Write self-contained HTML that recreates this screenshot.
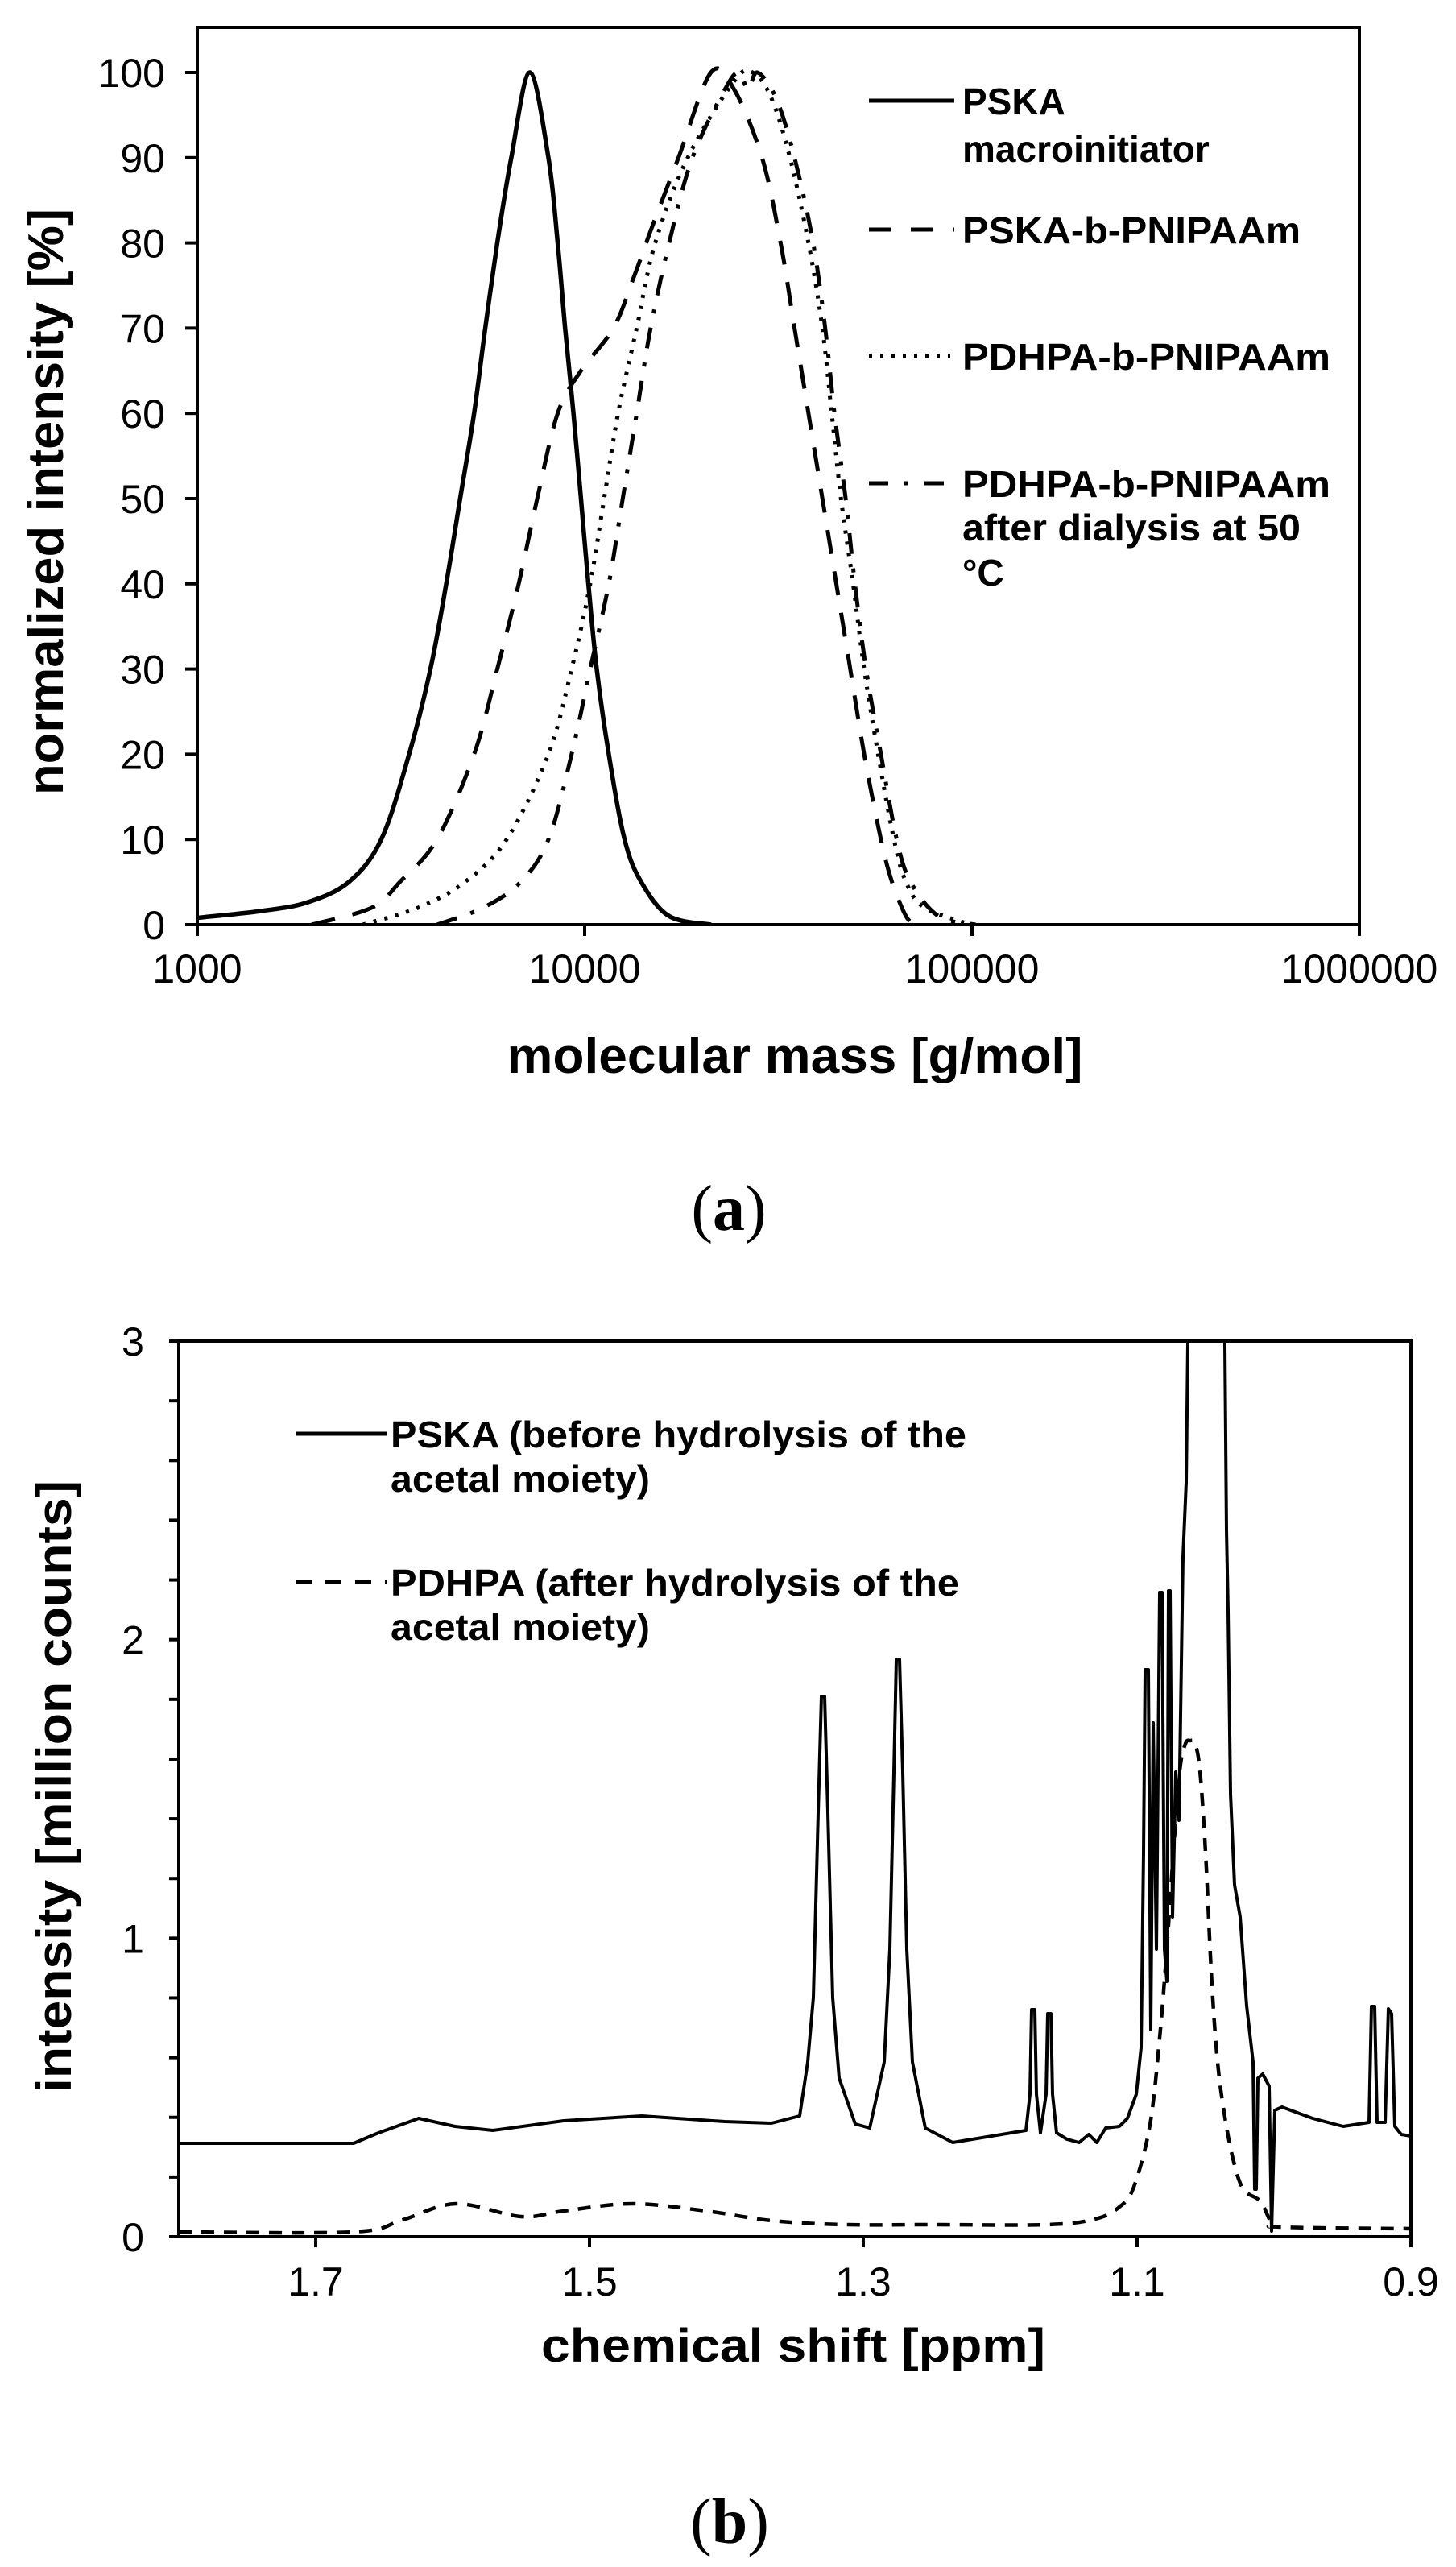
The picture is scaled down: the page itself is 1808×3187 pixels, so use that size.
<!DOCTYPE html>
<html><head><meta charset="utf-8"><style>
html,body{margin:0;padding:0;background:#fff;}
svg{display:block;}
text{font-family:"Liberation Sans",Arial,sans-serif;fill:#000;}
</style></head><body>
<svg id="s" width="1808" height="3187" viewBox="0 0 1808 3187" xmlns="http://www.w3.org/2000/svg">
<defs>
<clipPath id="ca"><rect x="245" y="34" width="1443" height="1114"/></clipPath>
<clipPath id="cb"><rect x="222" y="1665" width="1530" height="1112"/></clipPath>
</defs>
<!-- Chart A -->
<g id="ga" clip-path="url(#ca)" fill="none" stroke="#000" stroke-width="5" stroke-linejoin="round"></g>
<rect x="245" y="34" width="1443" height="1114" fill="none" stroke="#000" stroke-width="4"/>
<g id="ta" stroke="#000" stroke-width="4"></g>
<g font-size="50" text-anchor="end" id="yla"></g>
<g font-size="50" text-anchor="middle" id="xla"></g>
<text x="987" y="1332" font-size="62" font-weight="bold" text-anchor="middle" textLength="715" lengthAdjust="spacingAndGlyphs">molecular  mass  [g/mol]</text>
<text transform="translate(78,623) rotate(-90)" font-size="62" font-weight="bold" text-anchor="middle" textLength="728" lengthAdjust="spacingAndGlyphs">normalized  intensity  [%]</text>
<!-- legend A -->
<g stroke="#000" stroke-width="5" fill="none">
<line x1="1079" y1="125" x2="1185" y2="125"/>
<line x1="1079" y1="285" x2="1185" y2="285" stroke-dasharray="28 24"/>
<line x1="1079" y1="442" x2="1180" y2="442" stroke-dasharray="4 10"/>
<line x1="1079" y1="600" x2="1185" y2="600" stroke-dasharray="24 20 5 20"/>
</g>
<g font-size="46" font-weight="bold">
<text x="1195" y="142">PSKA</text>
<text x="1195" y="201">macroinitiator</text>
<text x="1195" y="302" textLength="420" lengthAdjust="spacingAndGlyphs">PSKA-b-PNIPAAm</text>
<text x="1195" y="459" textLength="457" lengthAdjust="spacingAndGlyphs">PDHPA-b-PNIPAAm</text>
<text x="1195" y="617" textLength="457" lengthAdjust="spacingAndGlyphs">PDHPA-b-PNIPAAm</text>
<text x="1195" y="671" textLength="420" lengthAdjust="spacingAndGlyphs">after dialysis at 50</text>
<text x="1195" y="727">°C</text>
</g>
<text x="905" y="1527" font-size="80" text-anchor="middle" style="font-family:'Liberation Serif',serif">(<tspan font-weight="bold">a</tspan>)</text>

<!-- Chart B -->
<g id="gb" clip-path="url(#cb)" fill="none" stroke="#000" stroke-width="4" stroke-linejoin="round"></g>
<rect x="222" y="1665" width="1530" height="1112" fill="none" stroke="#000" stroke-width="4"/>
<g id="tb" stroke="#000" stroke-width="4"></g>
<g font-size="50" text-anchor="middle" id="ylb"></g>
<g font-size="50" text-anchor="middle" id="xlb"></g>
<text x="985" y="2932" font-size="58" font-weight="bold" text-anchor="middle" textLength="626" lengthAdjust="spacingAndGlyphs">chemical shift [ppm]</text>
<text transform="translate(88,2218) rotate(-90)" font-size="60" font-weight="bold" text-anchor="middle" textLength="760" lengthAdjust="spacingAndGlyphs">intensity  [million counts]</text>
<g stroke="#000" stroke-width="5" fill="none">
<line x1="367" y1="1780" x2="481" y2="1780"/>
<line x1="367" y1="1964" x2="481" y2="1964" stroke-dasharray="20 17"/>
</g>
<g font-size="46" font-weight="bold">
<text x="485" y="1797" textLength="715" lengthAdjust="spacingAndGlyphs">PSKA (before hydrolysis of the</text>
<text x="485" y="1852" textLength="322" lengthAdjust="spacingAndGlyphs">acetal moiety)</text>
<text x="485" y="1981" textLength="706" lengthAdjust="spacingAndGlyphs">PDHPA (after hydrolysis of the</text>
<text x="485" y="2036" textLength="322" lengthAdjust="spacingAndGlyphs">acetal moiety)</text>
</g>
<text x="906" y="3157" font-size="80" text-anchor="middle" style="font-family:'Liberation Serif',serif">(<tspan font-weight="bold">b</tspan>)</text>
</svg>
<script>
var NS="http://www.w3.org/2000/svg";
function el(p,t,a){var e=document.createElementNS(NS,t);for(var k in a)e.setAttribute(k,a[k]);p.appendChild(e);return e;}
function cr(pts){var d="M"+pts[0][0].toFixed(1)+","+pts[0][1].toFixed(1);
for(var i=0;i<pts.length-1;i++){var p0=pts[i-1]||pts[i],p1=pts[i],p2=pts[i+1],p3=pts[i+2]||p2;
var c1=[p1[0]+(p2[0]-p0[0])/6,p1[1]+(p2[1]-p0[1])/6],c2=[p2[0]-(p3[0]-p1[0])/6,p2[1]-(p3[1]-p1[1])/6];
d+="C"+c1[0].toFixed(1)+","+c1[1].toFixed(1)+" "+c2[0].toFixed(1)+","+c2[1].toFixed(1)+" "+p2[0].toFixed(1)+","+p2[1].toFixed(1);}
return d;}
// Chart A
var ga=document.getElementById("ga");
function A(arr){return arr.map(function(p){return [245+(p[0]-212)/0.867,1148-10.58*p[1]];});}
var solid=[[200,0.7],[212,0.8],[280,1.6],[330,2.6],[375,5],[410,10],[440,20],[463,30],[480,40],[495,50],[510,60],[522,70],[535,80],[550,90],[570,100],[590,90],[600,80],[608,70],[617,60],[625,50],[633,40],[642,30],[655,20],[672,10],[690,5],[720,1],[765,0]];
var dash=[[335,0],[400,2],[430,5],[470,10],[510,20],[535,30],[558,40],[578,50],[600,60],[625,65],[660,70],[682,76],[702,82],[730,90],[765,100],[790,98],[820,90],[840,80],[855,70],[870,60],[885,50],[900,40],[915,30],[930,20],[948,10],[960,5],[975,1],[985,0]];
var dot=[[390,0],[450,2],[500,5],[545,10],[590,20],[615,30],[635,40],[650,50],[665,60],[685,70],[705,80],[740,90],[790,99],[810,100],[830,97],[850,90],[870,80],[885,70],[895,60],[905,50],[918,40],[930,30],[945,20],[962,10],[975,5],[995,2],[1045,0]];
var dd=[[470,0],[520,2],[560,5],[590,10],[615,20],[635,30],[655,40],[670,50],[685,60],[700,70],[720,80],[745,90],[780,98],[795,100],[805,98],[815,100],[835,97],[855,90],[875,80],[888,70],[898,60],[910,50],[920,40],[932,30],[948,20],[965,10],[980,5],[1010,1],[1050,0]];
el(ga,"path",{d:cr(A(solid)),"stroke-width":"5.5"});
el(ga,"path",{d:cr(A(dash)),"stroke-dasharray":"30 22"});
el(ga,"path",{d:cr(A(dot)),"stroke-dasharray":"4 10"});
el(ga,"path",{d:cr(A(dd)),"stroke-dasharray":"26 18 5 18"});
var ta=document.getElementById("ta"),yla=document.getElementById("yla"),xla=document.getElementById("xla");
for(var v=0;v<=100;v+=10){var y=1148-10.58*v;el(ta,"line",{x1:230,y1:y,x2:245,y2:y});var t=el(yla,"text",{x:205,y:y+18});t.textContent=v;}
var labs=["1000","10000","100000","1000000"];
for(var i=0;i<4;i++){var x=245+481*i;el(ta,"line",{x1:x,y1:1148,x2:x,y2:1162});var t=el(xla,"text",{x:x,y:1220});t.textContent=labs[i];}
// Chart B
var gb=document.getElementById("gb");
var sb=[[222,2661],[439,2661],[470,2648],[520,2630],[565,2640],[612,2645],[700,2633],[797,2627],[900,2634],[958,2636],[993,2627],[1003,2560],[1010,2480],[1016,2250],[1020,2106],[1024,2106],[1028,2250],[1034,2480],[1042,2580],[1062,2637],[1080,2642],[1098,2560],[1105,2420],[1110,2200],[1113,2060],[1117,2060],[1121,2200],[1126,2420],[1133,2560],[1149,2642],[1183,2660],[1274,2645],[1279,2600],[1281,2495],[1285,2495],[1287,2600],[1292,2648],[1299,2600],[1301,2500],[1305,2500],[1307,2600],[1312,2648],[1325,2656],[1340,2660],[1352,2650],[1362,2660],[1373,2642],[1390,2640],[1400,2630],[1411,2600],[1417,2542],[1420,2300],[1422,2073],[1426,2073],[1429,2520],[1432,2139],[1436,2420],[1440,1977],[1443,1977],[1446,2420],[1449,2460],[1451,1975],[1453,1975],[1456,2380],[1460,2200],[1464,2260],[1469,1933],[1473,1840],[1475,1669],[1476,1600],[1520,1600],[1521,1669],[1523,1900],[1525,2000],[1528,2227],[1533,2340],[1540,2380],[1548,2490],[1556,2560],[1558,2718],[1560,2718],[1562,2580],[1568,2575],[1576,2590],[1579,2770],[1583,2620],[1592,2616],[1630,2630],[1668,2640],[1700,2635],[1703,2491],[1707,2491],[1710,2635],[1720,2635],[1724,2494],[1728,2500],[1732,2640],[1740,2650],[1752,2652]];
var db=[[222,2771],[439,2771],[500,2756],[566,2736],[647,2752],[700,2745],[785,2736],[877,2745],[958,2757],[1050,2762],[1154,2762],[1300,2762],[1360,2755],[1390,2740],[1408,2715],[1428,2638],[1440,2530],[1449,2418],[1457,2300],[1465,2198],[1472,2165],[1478,2161],[1484,2165],[1490,2198],[1497,2300],[1504,2447],[1511,2550],[1519,2616],[1531,2680],[1544,2718],[1565,2733],[1579,2760],[1590,2765],[1752,2767]];
function P(pts){return "M"+pts.map(function(p){return p[0]+","+p[1];}).join("L");}
el(gb,"path",{d:P(sb),"stroke-width":"4"});
el(gb,"path",{d:cr(db),"stroke-width":"4.5","stroke-dasharray":"16 12"});
var tb=document.getElementById("tb"),ylb=document.getElementById("ylb"),xlb=document.getElementById("xlb");
for(var k=0;k<=15;k++){var y=2777-74.13*k;el(tb,"line",{x1:210,y1:y,x2:222,y2:y});}
for(var v=0;v<=3;v++){var t=el(ylb,"text",{x:165,y:2777-370.7*v+18});t.textContent=v;}
var xl=["1.7","1.5","1.3","1.1","0.9"];
for(var i=0;i<5;i++){var x=392+340*i;el(tb,"line",{x1:x,y1:2777,x2:x,y2:2790});var t=el(xlb,"text",{x:x,y:2850});t.textContent=xl[i];}
</script>
</body></html>
